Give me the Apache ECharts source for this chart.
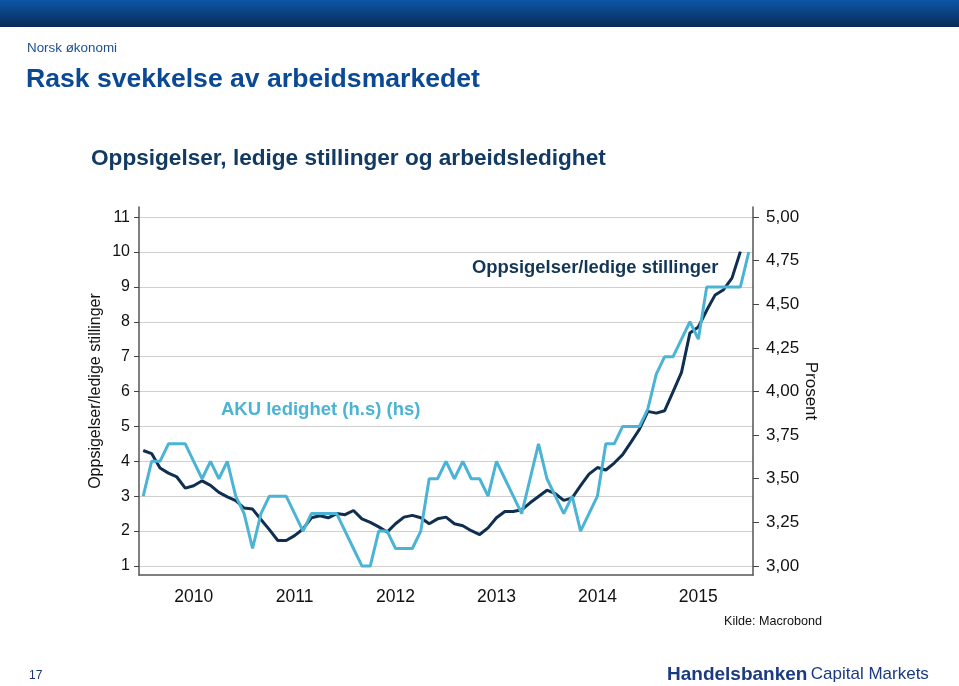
<!DOCTYPE html>
<html>
<head>
<meta charset="utf-8">
<script src="https://cdn.jsdelivr.net/npm/echarts@6/dist/echarts.min.js"></script>
<style>
html,body{margin:0;padding:0;background:#fff;}
#c{width:959px;height:686px;}
</style>
</head>
<body>
<div id="c"></div>
<script>
// ---- data ----
const years = [2010, 2011, 2012, 2013, 2014, 2015, 2016];
const monthNames = ['01','02','03','04','05','06','07','08','09','10','11','12'];
// Oppsigelser/ledige stillinger (venstre akse), månedlig fra jan 2010
const oppsigelserLedige = [
  4.31, 4.22, 3.81, 3.66, 3.55, 3.23, 3.30, 3.44, 3.31, 3.11, 2.98, 2.87,
  2.66, 2.63, 2.33, 2.04, 1.73, 1.73, 1.87, 2.06, 2.38, 2.44, 2.38, 2.50,
  2.47, 2.59, 2.35, 2.25, 2.12, 1.97, 2.21, 2.40, 2.45, 2.38, 2.21, 2.35,
  2.40, 2.21, 2.15, 2.01, 1.90, 2.09, 2.38, 2.56, 2.56, 2.61, 2.81, 2.99,
  3.17, 3.07, 2.88, 2.95, 3.30, 3.63, 3.82, 3.75, 3.95, 4.19, 4.55, 4.92,
  5.43, 5.38, 5.45, 6.00, 6.55, 7.68, 7.85, 8.33, 8.77, 8.92, 9.25, 10.01,
  null
];
// AKU ledighet (høyre akse, prosent), månedlig fra jan 2010
const akuLedighet = [
  3.4, 3.6, 3.6, 3.7, 3.7, 3.7, 3.6, 3.5, 3.6, 3.5, 3.6, 3.4,
  3.3, 3.1, 3.3, 3.4, 3.4, 3.4, 3.3, 3.2, 3.3, 3.3, 3.3, 3.3,
  3.2, 3.1, 3.0, 3.0, 3.2, 3.2, 3.1, 3.1, 3.1, 3.2, 3.5, 3.5,
  3.6, 3.5, 3.6, 3.5, 3.5, 3.4, 3.6, 3.5, 3.4, 3.3, 3.5, 3.7,
  3.5, 3.4, 3.3, 3.4, 3.2, 3.3, 3.4, 3.7, 3.7, 3.8, 3.8, 3.8,
  3.9, 4.1, 4.2, 4.2, 4.3, 4.4, 4.3, 4.6, 4.6, 4.6, 4.6, 4.6,
  4.8
];
const leftTicks = [1, 2, 3, 4, 5, 6, 7, 8, 9, 10, 11];
const rightTicks = [3.00, 3.25, 3.50, 3.75, 4.00, 4.25, 4.50, 4.75, 5.00];

// categories: months Jan 2010 .. Jan 2016
const categories = [];
years.forEach(y => monthNames.forEach(m => {
  if (y < 2016 || m === '01') categories.push(y + '-' + m);
}));

const FONT = '"Liberation Sans", Arial, sans-serif';
const DARK = '#0f2e50';
const LIGHT = '#4bb4d5';

const chart = echarts.init(document.getElementById('c'), null, {renderer: 'canvas'});
chart.setOption({
  backgroundColor: '#ffffff',
  animation: false,
  textStyle: {fontFamily: FONT},
  grid: {left: 139, right: 206, top: 207, bottom: 111, containLabel: false, outerBoundsMode: 'none'},
  xAxis: {
    type: 'category',
    data: categories,
    boundaryGap: true,
    axisLine: {lineStyle: {color: '#555', width: 1.5}},
    axisTick: {
      interval: (i, v) => v.endsWith('-01'),
      length: 6,
      lineStyle: {color: '#444', width: 1.2}
    },
    axisLabel: {
      interval: (i, v) => v.endsWith('-07'),
      formatter: v => v.slice(0, 4),
      fontSize: 17.5,
      color: '#111',
      margin: 13,
      fontFamily: FONT
    },
    splitLine: {show: false}
  },
  yAxis: [
    {
      type: 'value',
      position: 'left',
      min: 0.74,
      max: 11.29,
      name: 'Oppsigelser/ledige stillinger',
      nameLocation: 'middle',
      nameRotate: 90,
      nameGap: 35,
      nameMoveOverlap: false,
      nameTextStyle: {fontSize: 16, color: '#111', fontFamily: FONT},
      axisLine: {show: true, lineStyle: {color: '#555', width: 1.5}},
      axisTick: {show: true, customValues: leftTicks, length: 5, lineStyle: {color: '#444'}},
      axisLabel: {customValues: leftTicks, fontSize: 16, color: '#111', margin: 9, fontFamily: FONT},
      splitLine: {show: true, lineStyle: {color: '#cfcfcf', width: 1.2}}
    },
    {
      type: 'value',
      position: 'right',
      min: 2.948,
      max: 5.058,
      name: 'Prosent',
      nameLocation: 'middle',
      nameRotate: -90,
      nameGap: 49,
      nameMoveOverlap: false,
      nameTextStyle: {fontSize: 17, color: '#111', fontFamily: FONT},
      axisLine: {show: true, lineStyle: {color: '#555', width: 1.5}},
      axisTick: {show: true, customValues: rightTicks, length: 6, lineStyle: {color: '#444'}},
      axisLabel: {
        customValues: rightTicks,
        formatter: v => v.toFixed(2).replace('.', ','),
        fontSize: 17, color: '#111', margin: 13, fontFamily: FONT
      },
      splitLine: {show: false}
    }
  ],
  series: [
    {
      name: 'Oppsigelser/ledige stillinger',
      type: 'line',
      yAxisIndex: 0,
      data: oppsigelserLedige,
      showSymbol: false,
      smooth: false,
      lineStyle: {color: DARK, width: 3},
      itemStyle: {color: DARK},
      z: 2
    },
    {
      name: 'AKU ledighet (h.s)',
      type: 'line',
      yAxisIndex: 1,
      data: akuLedighet,
      showSymbol: false,
      smooth: false,
      lineStyle: {color: LIGHT, width: 3},
      itemStyle: {color: LIGHT},
      z: 3
    }
  ],
  graphic: [
    {
      type: 'rect', left: 0, top: 0, z: 10,
      shape: {width: 959, height: 27},
      style: {fill: {type: 'linear', x: 0, y: 0, x2: 0, y2: 1,
        colorStops: [{offset: 0, color: '#0b56a6'}, {offset: 1, color: '#0a2b58'}]}}
    },
    {type: 'text', left: 27, top: 42, z: 10,
      style: {text: 'Norsk økonomi', font: '13.4px ' + FONT, fill: '#1d4f92'}},
    {type: 'text', left: 26, top: 66, z: 10,
      style: {text: 'Rask svekkelse av arbeidsmarkedet', font: 'bold 26.6px ' + FONT, fill: '#0b4995'}},
    {type: 'text', left: 91, top: 147, z: 10,
      style: {text: 'Oppsigelser, ledige stillinger og arbeidsledighet', font: 'bold 22.6px ' + FONT, fill: '#123a62'}},
    {type: 'text', left: 472, top: 259, z: 10,
      style: {text: 'Oppsigelser/ledige stillinger', font: 'bold 18.4px ' + FONT, fill: '#133556'}},
    {type: 'text', left: 221, top: 400, z: 10,
      style: {text: 'AKU ledighet (h.s) (hs)', font: 'bold 18.5px ' + FONT, fill: '#4bb4d5'}},
    {type: 'text', left: 724, top: 615, z: 10,
      style: {text: 'Kilde: Macrobond', font: '12.6px ' + FONT, fill: '#111'}},
    {type: 'text', left: 29, top: 670, z: 10,
      style: {text: '17', font: '12px ' + FONT, fill: '#1a3570'}},
    {type: 'text', left: 667, top: 665, z: 10,
      style: {
        text: '{a|Handelsbanken} {b|Capital Markets}',
        rich: {
          a: {fontFamily: FONT, fontSize: 19, fontWeight: 'bold', fill: '#1b3b80', color: '#1b3b80'},
          b: {fontFamily: FONT, fontSize: 17, fill: '#1b3b80', color: '#1b3b80'}
        }
      }}
  ]
});
</script>
</body>
</html>
